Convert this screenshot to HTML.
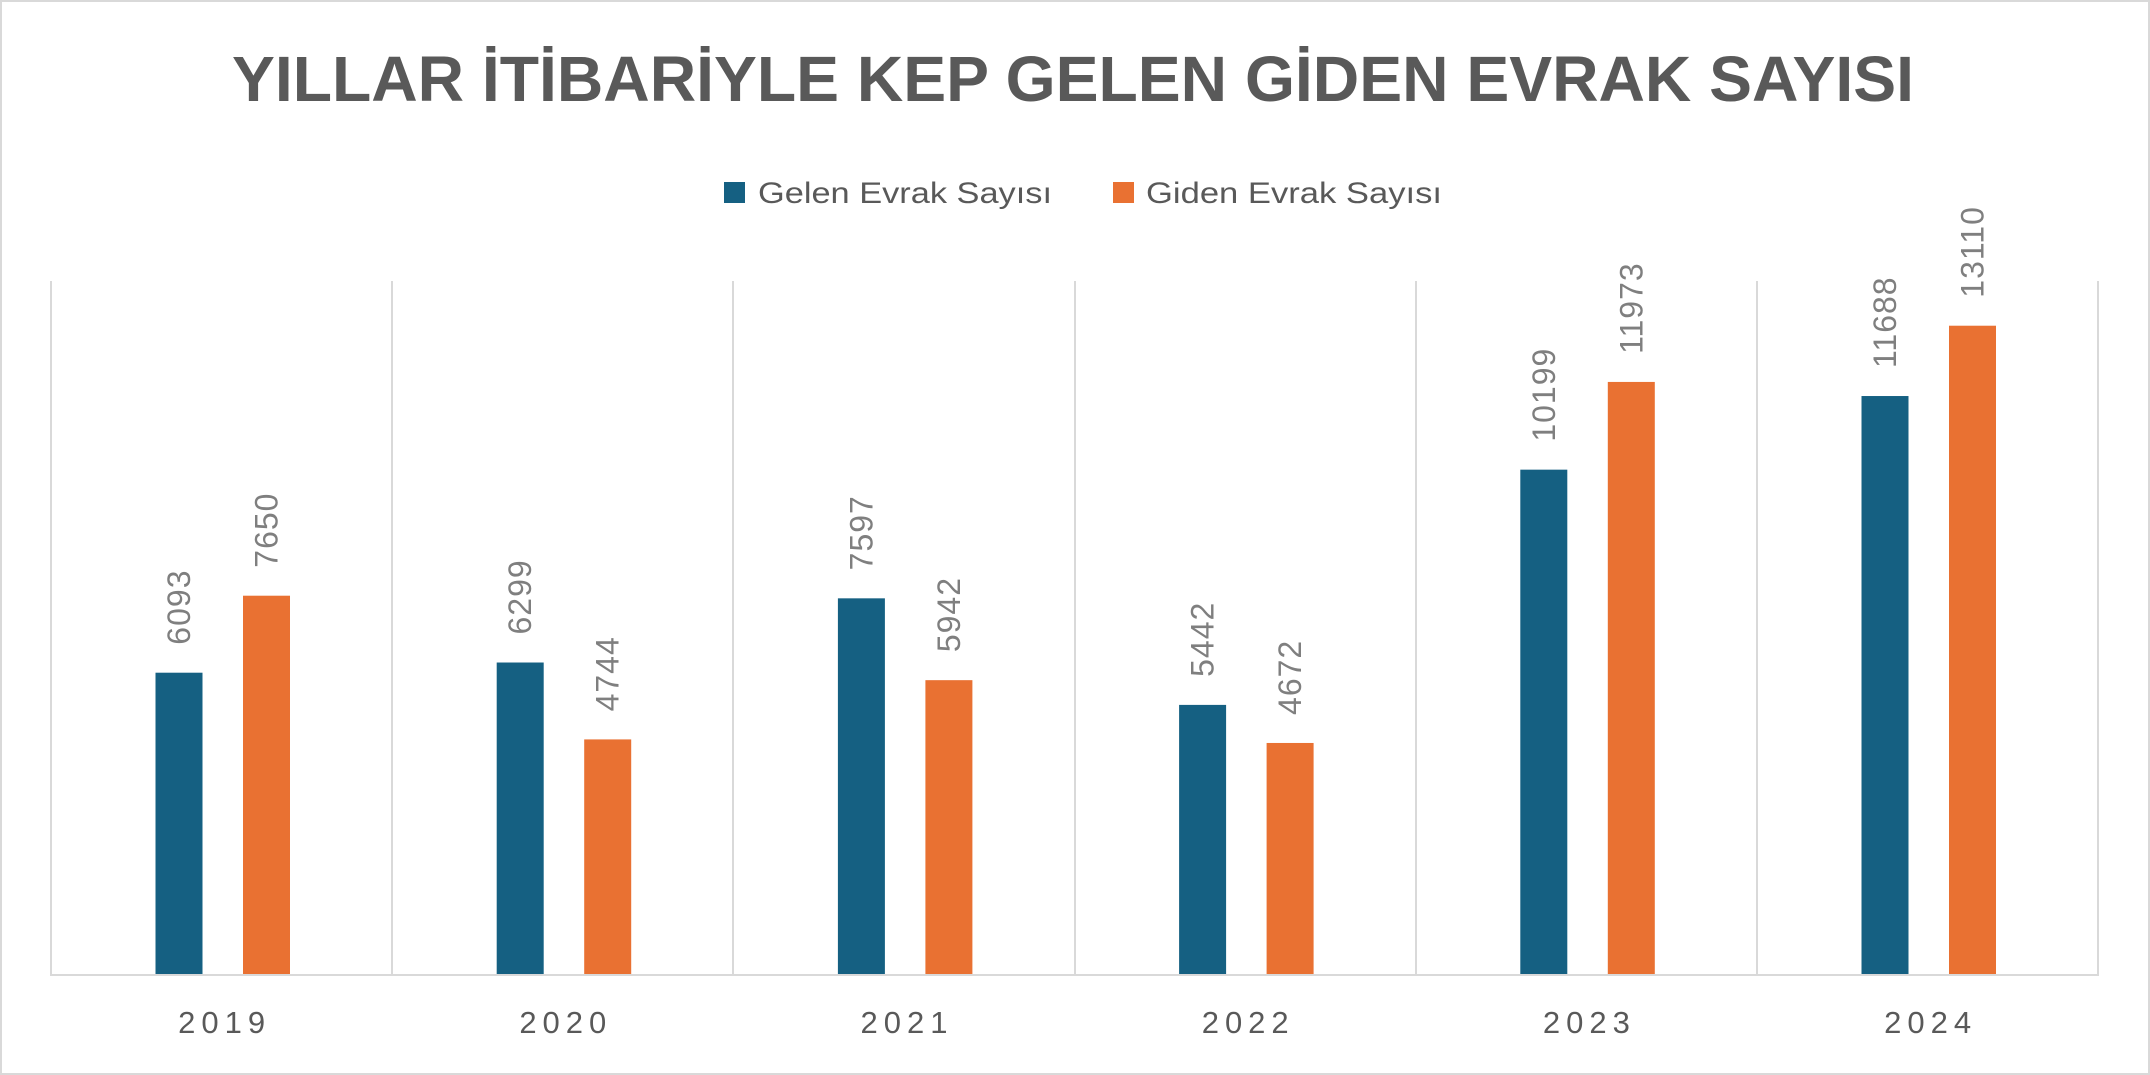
<!DOCTYPE html>
<html><head><meta charset="utf-8"><style>
html,body{margin:0;padding:0;background:#fff;}
svg{display:block;}
</style></head><body>
<svg width="2150" height="1075" viewBox="0 0 2150 1075" xmlns="http://www.w3.org/2000/svg">
<rect x="1" y="1" width="2148" height="1073" fill="#fff" stroke="#d9d9d9" stroke-width="2"/>
<text x="232" y="101" font-family="Liberation Sans, sans-serif" font-weight="bold" font-size="64" fill="#595959" textLength="1682" lengthAdjust="spacingAndGlyphs">YILLAR İTİBARİYLE KEP GELEN GİDEN EVRAK SAYISI</text>
<rect x="724" y="182" width="21" height="21" fill="#156082"/>
<text x="758" y="203" font-family="Liberation Sans, sans-serif" font-size="30" fill="#595959" textLength="294" lengthAdjust="spacingAndGlyphs">Gelen Evrak Sayısı</text>
<rect x="1113" y="182" width="21" height="21" fill="#E97132"/>
<text x="1146" y="203" font-family="Liberation Sans, sans-serif" font-size="30" fill="#595959" textLength="296" lengthAdjust="spacingAndGlyphs">Giden Evrak Sayısı</text>
<g stroke="#d9d9d9" stroke-width="2">
<line x1="51" y1="281" x2="51" y2="975"/><line x1="392" y1="281" x2="392" y2="975"/><line x1="733" y1="281" x2="733" y2="975"/><line x1="1075" y1="281" x2="1075" y2="975"/><line x1="1416" y1="281" x2="1416" y2="975"/><line x1="1757" y1="281" x2="1757" y2="975"/><line x1="2098" y1="281" x2="2098" y2="975"/>
<line x1="50" y1="975" x2="2099" y2="975"/>
</g>
<g id="bars"></g>
</svg>
<script>
var g=document.getElementById('bars');var ns='http://www.w3.org/2000/svg';
var yrs=['2019','2020','2021','2022','2023','2024'];
var a=[6093,6299,7597,5442,10199,11688],b=[7650,4744,5942,4672,11973,13110];
var k=0.04945,base=974;
function bar(x,v,c){var h=v*k;var r=document.createElementNS(ns,'rect');r.setAttribute('x',x);r.setAttribute('y',base-h);r.setAttribute('width',47);r.setAttribute('height',h);r.setAttribute('fill',c);g.appendChild(r);
var t=document.createElementNS(ns,'text');var cx=x+23.5+11,cy=base-h-28;t.setAttribute('transform','translate('+cx+','+cy+') rotate(-90)');t.setAttribute('font-family','Liberation Sans, sans-serif');t.setAttribute('font-size','32');t.setAttribute('fill','#7f7f7f');t.setAttribute('letter-spacing','1');t.textContent=v;g.appendChild(t);}
for(var i=0;i<6;i++){var x0=51+i*341.2;bar(x0+104.5,a[i],'#156082');bar(x0+192,b[i],'#E97132');
var t=document.createElementNS(ns,'text');t.setAttribute('x',x0+170.6+3);t.setAttribute('y',1033);t.setAttribute('text-anchor','middle');t.setAttribute('font-family','Liberation Sans, sans-serif');t.setAttribute('font-size','31');t.setAttribute('fill','#595959');t.setAttribute('letter-spacing','6');t.textContent=yrs[i];g.appendChild(t);}
</script>
</body></html>
